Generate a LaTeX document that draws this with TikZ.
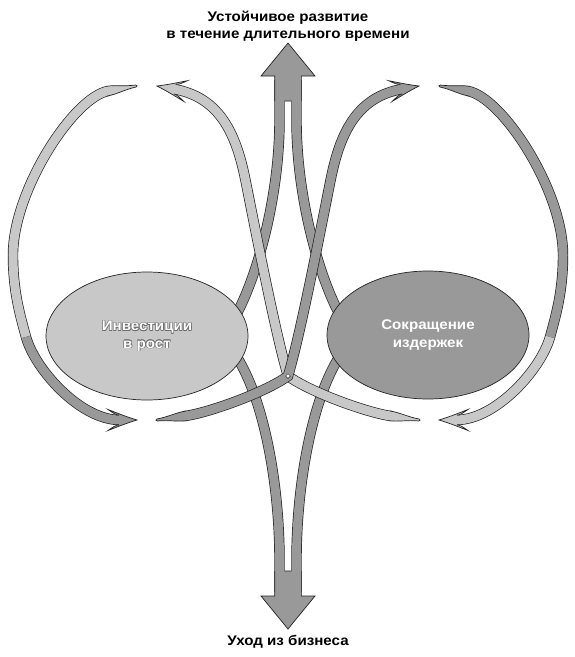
\documentclass[tikz,border=0pt]{standalone}
\usepackage{fontspec}
\setmainfont{Liberation Sans}[FakeStretch=1.08]
\usetikzlibrary{math,shapes.geometric}

\definecolor{light}{RGB}{200,200,200}
\definecolor{dark}{RGB}{153,153,153}
\definecolor{rim}{RGB}{35,35,35}
\definecolor{halo}{RGB}{110,110,110}

% white letters with a grey rim
\newcommand{\halotext}[1]{\leavevmode
  \rlap{\color{halo}\kern.6pt#1}\rlap{\color{halo}\kern-.6pt#1}%
  \rlap{\color{halo}\raisebox{.6pt}{#1}}\rlap{\color{halo}\raisebox{-.6pt}{#1}}%
  \rlap{\color{halo}\kern.45pt\raisebox{.45pt}{#1}}\rlap{\color{halo}\kern-.45pt\raisebox{-.45pt}{#1}}%
  \rlap{\color{halo}\kern.45pt\raisebox{-.45pt}{#1}}\rlap{\color{halo}\kern-.45pt\raisebox{.45pt}{#1}}%
  #1}

\begin{document}
\begin{tikzpicture}[x=1pt, y=-1pt, line join=miter,
    band/.style={draw=rim, line width=0.7pt, double=#1, double distance=9pt},
    rimline/.style={draw=rim, line width=0.7pt},
    txt/.style={font=\bfseries\fontsize{14}{17.5}\selectfont, align=center},
    barb/.pic={
      \fill[#1] (0,0) .. controls (10,-3) and (20,-7) .. (29,-10.5)
        .. controls (24,-7) and (21,-5) .. (18,-4.85) -- (18,4.85)
        .. controls (21,5) and (24,7) .. (29,10.5)
        .. controls (20,7) and (10,3) .. (0,0) -- cycle;
      \draw[rimline] (18,-4.85) .. controls (21,-5) and (24,-7) .. (29,-10.5)
        .. controls (20,-7) and (10,-3) .. (0,0)
        .. controls (10,3) and (20,7) .. (29,10.5)
        .. controls (24,7) and (21,5) .. (18,4.85);
    },
    taper/.pic={
      \fill[#1] (30,-4.85) .. controls (20,-4.85) and (12,-1.5) .. (0,-1)
        .. controls (-1.4,-1) and (-1.4,1) .. (0,1)
        .. controls (12,1.5) and (20,4.85) .. (30,4.85) -- cycle;
      \draw[rimline] (30,-4.85) .. controls (20,-4.85) and (12,-1.5) .. (0,-1)
        .. controls (-1.4,-1) and (-1.4,1) .. (0,1)
        .. controls (12,1.5) and (20,4.85) .. (30,4.85);
    }]
  \tikzmath{\shL = 279.5; \shR = 296.5; \edL = 274.65; \edR = 301.35; \gpL = 284.35; \gpR = 291.65;}
  \useasboundingbox (0,0) rectangle (574,657);
  \coordinate (X) at (288,376);

  % outer loops
  \draw[band=light] (108.4,90.9) .. controls (73.9,97) and (13,190) .. (13,255)
    .. controls (13,290) and (19.4,313) .. (26,337);
  \draw[band=dark] (26,337) .. controls (34.7,368.8) and (80,420) .. (120,420);
  \draw[band=dark] (467.6,90.9) .. controls (502.1,97) and (563,190) .. (563,255)
    .. controls (563,290) and (556.6,313) .. (550,337);
  \draw[band=light] (550,337) .. controls (541.3,368.8) and (496,420) .. (456,420);

  % ribbons into the two big arrows
  \draw[band=dark] (232,322) .. controls (255,285) and (\shL,200) .. (\shL,120) -- (\shL,80);
  \draw[band=dark] (344,322) .. controls (321,285) and (\shR,200) .. (\shR,120) -- (\shR,80);
  \draw[band=dark] (232,350) .. controls (262,390) and (\shL,480) .. (\shL,560) -- (\shL,592);
  \draw[band=dark] (344,350) .. controls (314,390) and (\shR,480) .. (\shR,560) -- (\shR,592);

  % crossing ribbons
  \draw[band=light] (391.3,416.1) .. controls (366.5,412.6) and (310,392) .. (X)
    .. controls (275,332.8) and (252.2,213.3) .. (245,178)
    .. controls (235.4,131) and (218,96.8) .. (173.7,89);
  \draw[band=dark] (184.7,416.1) .. controls (209.5,412.6) and (266,392) .. (X)
    .. controls (301,332.8) and (323.8,213.3) .. (331,178)
    .. controls (340.6,131) and (358,96.8) .. (402.3,89);
  \node[diamond, draw=rim, line width=0.5pt, fill=white, inner sep=0pt, minimum size=5pt] (knot) at (X) {};

  % big arrows
  \fill[dark] (\edL,101) -- (\edL,76) -- (261,76) -- (288,43) -- (315,76) -- (\edR,76) -- (\edR,101) -- cycle;
  \draw[rimline] (\edL,101) -- (\edL,76) -- (261,76) -- (288,43) -- (315,76) -- (\edR,76) -- (\edR,101)
    (\gpL,101) -- (\gpR,101);
  \fill[dark] (\edL,571) -- (\edL,596) -- (261,596) -- (288,629) -- (315,596) -- (\edR,596) -- (\edR,571) -- cycle;
  \draw[rimline] (\edL,571) -- (\edL,596) -- (261,596) -- (288,629) -- (315,596) -- (\edR,596) -- (\edR,571)
    (\gpL,571) -- (\gpR,571);

  % the two strategies
  \node[ellipse, rimline, fill=light, minimum width=202pt, minimum height=128pt, text=white, txt] (grow) at (147,336)
    {\halotext{Инвестиции}\\\halotext{в рост}};
  \node[ellipse, rimline, fill=dark, minimum width=202pt, minimum height=128pt, text=white, txt] (save) at (428,335)
    {Сокращение\\издержек};

  % arrow tips and thin ends
  \pic[rotate=-10] at (157,86) {barb=light};
  \pic[rotate=190] at (419,86) {barb=dark};
  \pic[rotate=180] at (137,420) {barb=dark};
  \pic at (439,420) {barb=light};
  \pic[rotate=190] at (136,86) {taper=light};
  \pic[rotate=-10] at (440,86) {taper=dark};
  \pic[rotate=8] at (157,420) {taper=dark};
  \pic[rotate=172] at (419,420) {taper=light};

  \node[txt] (up) at (288,26) {Устойчивое развитие\\в течение длительного времени};
  \node[txt] (down) at (288,642) {Уход из бизнеса};
\end{tikzpicture}
\end{document}
